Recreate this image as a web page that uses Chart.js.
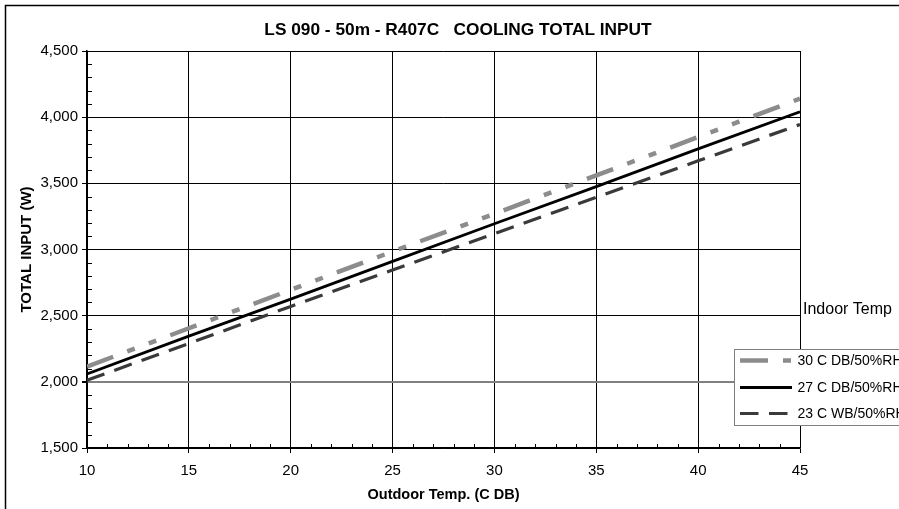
<!DOCTYPE html>
<html>
<head>
<meta charset="utf-8">
<script src="https://cdn.jsdelivr.net/npm/chart.js@4/dist/chart.umd.min.js"></script>
<style>
  html, body { margin: 0; padding: 0; background: #fff; }
  #wrap { position: relative; width: 899px; height: 509px; }
</style>
</head>
<body>
<div id="wrap"><canvas id="c" width="899" height="509"></canvas></div>
<script>
const chartTitle = 'LS 090 - 50m - R407C   COOLING TOTAL INPUT';
const xTitle = 'Outdoor Temp. (C DB)';
const yTitle = 'TOTAL INPUT (W)';
const legendTitle = 'Indoor Temp';

const outdoorTemps = [10, 15, 20, 25, 30, 35, 40, 45];
const seriesLabels = ['30 C DB/50%RH', '27 C DB/50%RH', '23 C WB/50%RH'];
const input30DB = [2115, 2405, 2695, 2985, 3270, 3560, 3850, 4140];
const input27DB = [2060, 2345, 2625, 2910, 3195, 3475, 3760, 4040];
const input23WB = [2012, 2290, 2570, 2845, 3120, 3395, 3670, 3945];

const FONT = "'Liberation Sans', Arial, sans-serif";
Chart.defaults.color = '#000';
Chart.defaults.font.family = FONT;

function pts(ys) { return outdoorTemps.map((x, i) => ({ x: x, y: ys[i] })); }

const decor = {
  id: 'decor',
  beforeDraw(chart) {
    const ctx = chart.ctx;
    ctx.save();
    ctx.fillStyle = '#fff';
    ctx.fillRect(0, 0, chart.width, chart.height);
    ctx.strokeStyle = '#000';
    ctx.lineWidth = 1.5;
    ctx.strokeRect(5.5, 5.5, 1000, 1000);
    ctx.restore();
  },
  beforeDatasetsDraw(chart) {
    const ctx = chart.ctx, xs = chart.scales.x, ys = chart.scales.y;
    ctx.save();
    ctx.strokeStyle = '#000';
    ctx.lineWidth = 1;
    ctx.beginPath();
    for (let v = ys.min; v <= ys.max; v += 100) {
      if (v % 500 === 0) continue;
      const py = Math.round(ys.getPixelForValue(v)) + 0.5;
      ctx.moveTo(xs.left, py); ctx.lineTo(xs.left + 5, py);
    }
    for (let v = xs.min; v <= xs.max; v += 1) {
      if (v % 5 === 0) continue;
      const px = Math.round(xs.getPixelForValue(v)) + 0.5;
      ctx.moveTo(px, ys.bottom); ctx.lineTo(px, ys.bottom - 4);
    }
    ctx.stroke();
    ctx.restore();
  },
  afterDraw(chart) {
    const ctx = chart.ctx;
    ctx.save();
    // Title
    ctx.fillStyle = '#000';
    ctx.font = 'bold 17.3px ' + FONT;
    ctx.textAlign = 'center';
    ctx.textBaseline = 'middle';
    ctx.fillText(chartTitle, 458, 30);
    // Legend heading
    ctx.font = '16px ' + FONT;
    ctx.textAlign = 'left';
    ctx.fillText(legendTitle, 803, 309.5);
    // Legend box
    ctx.fillStyle = '#fff';
    ctx.fillRect(734.5, 349.5, 300, 76);
    ctx.strokeStyle = '#808080';
    ctx.lineWidth = 1;
    ctx.strokeRect(734.5, 349.5, 300, 76);
    const rows = [360.5, 387.5, 413.5];
    chart.data.datasets.forEach((ds, i) => {
      const y = rows[i];
      ctx.strokeStyle = ds.borderColor;
      ctx.lineWidth = ds.borderWidth;
      ctx.setLineDash(ds.borderDash || []);
      ctx.lineCap = 'butt';
      ctx.beginPath();
      ctx.moveTo(740, y); ctx.lineTo(792, y);
      ctx.stroke();
      ctx.setLineDash([]);
      ctx.fillStyle = '#000';
      ctx.font = '14px ' + FONT;
      ctx.textBaseline = 'middle';
      ctx.fillText(ds.label, 797.5, y + 1);
    });
    ctx.restore();
  }
};

new Chart(document.getElementById('c'), {
  type: 'line',
  data: {
    datasets: [
      { label: seriesLabels[0], data: pts(input30DB), borderColor: '#8c8c8c', borderWidth: 4.5, borderDash: [28, 15, 8, 15, 8, 15], pointRadius: 0, tension: 0, fill: false },
      { label: seriesLabels[1], data: pts(input27DB), borderColor: '#000000', borderWidth: 2.8, borderDash: [], pointRadius: 0, tension: 0, fill: false },
      { label: seriesLabels[2], data: pts(input23WB), borderColor: '#3a3a3a', borderWidth: 3.2, borderDash: [18.5, 10.5], pointRadius: 0, tension: 0, fill: false }
    ]
  },
  options: {
    responsive: false,
    animation: false,
    devicePixelRatio: 1,
    layout: { padding: { left: 0, right: 99, top: 51, bottom: 0 } },
    plugins: { legend: { display: false }, title: { display: false }, tooltip: { enabled: false } },
    scales: {
      x: {
        type: 'linear', min: 10, max: 45,
        ticks: { stepSize: 5, padding: 9, font: { size: 15 }, color: '#000' },
        grid: { color: '#000', lineWidth: 1, tickLength: 5, tickColor: '#000' },
        border: { color: '#000', width: 1.5 },
        title: { display: true, text: xTitle, font: { size: 14.5, weight: 'bold' }, color: '#000', padding: { top: 0, bottom: 5 } },
        afterFit(s) { s.height = 61; }
      },
      y: {
        type: 'linear', min: 1500, max: 4500,
        ticks: { stepSize: 500, padding: 4, font: { size: 15 }, color: '#000',
                 callback: v => v.toLocaleString('en-US') },
        grid: {
          color: c => (c.tick && c.tick.value === 2000) ? '#808080' : '#000',
          lineWidth: c => (c.tick && c.tick.value === 2000) ? 2 : 1,
          tickLength: 5, tickColor: '#000'
        },
        border: { color: '#000', width: 1.5 },
        title: { display: true, text: yTitle, font: { size: 15, weight: 'bold' }, color: '#000', padding: { top: 18, bottom: 0 } },
        afterFit(s) { s.width = 87; }
      }
    }
  },
  plugins: [decor]
});
</script>
</body>
</html>
